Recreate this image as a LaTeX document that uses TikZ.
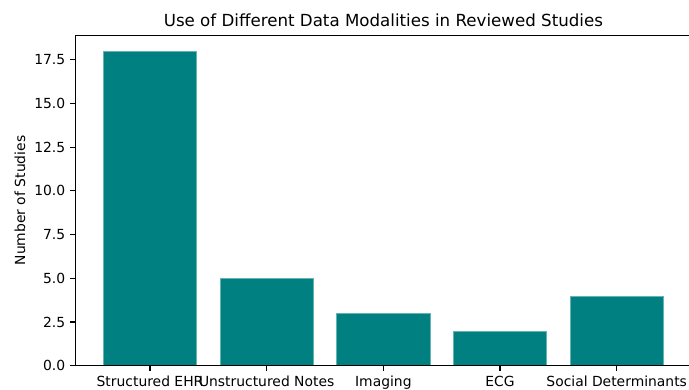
\documentclass[tikz,border=0pt]{standalone}
\usepackage{fontspec}
\setmainfont{DejaVu Sans}
\definecolor{barteal}{RGB}{0,128,128}
\begin{document}
\begin{tikzpicture}[x=0.72pt,y=0.72pt,
  spine/.style={line width=0.8pt,black},
  tickline/.style={line width=0.8pt,black},
  bar/.style={fill=barteal,draw=barteal!60!white,line width=0.3pt},
  xlab/.style={anchor=north,inner sep=0pt,font=\fontsize{10}{12}\selectfont},
  ylab/.style={anchor=east,inner sep=0pt,font=\fontsize{10}{12}\selectfont},
  ttl/.style={anchor=base,inner sep=0pt,font=\fontsize{12}{14}\selectfont}]
\useasboundingbox (0,0) rectangle (689,390);
% bars: X(i)=150+116.67 i, half width 46.67, Y(v)=24.3+17.486 v
\foreach \i/\v in {0/18,1/5,2/3,3/2,4/4}{
  \pgfmathsetmacro{\cx}{150+116.67*\i}
  \pgfmathsetmacro{\top}{24.3+17.486*\v}
  \path[bar] (\cx-46.67,24.3) rectangle (\cx+46.67,\top);
}
% spines
\coordinate (bl) at (75.3,24.3);
\coordinate (tl) at (75.3,354.8);
\coordinate (br) at (689,24.3);
\coordinate (tr) at (689,354.8);
\draw[spine] (tl) -- (bl) -- (br);
\draw[spine] (tl) -- (tr);
% y ticks
\foreach \v/\t in {0/0.0,2.5/2.5,5/5.0,7.5/7.5,10/10.0,12.5/12.5,15/15.0,17.5/17.5}{
  \pgfmathsetmacro{\yy}{24.3+17.486*\v}
  \draw[tickline] (75.3,\yy) -- (70.4,\yy);
  \node[ylab] (yt\t) at (65.5,\yy) {\t};
}
% x ticks
\foreach \i/\t in {0/Structured EHR,1/Unstructured Notes,2/Imaging,3/ECG,4/Social Determinants}{
  \pgfmathsetmacro{\cx}{150+116.67*\i}
  \draw[tickline] (\cx,24.3) -- (\cx,19.4);
  \node[xlab] (xt\i) at (\cx,14.5) {\t};
}
\node[rotate=90,inner sep=0pt,font=\fontsize{10}{12}\selectfont] (ylabel) at (20,189.5) {Number of Studies};
\node[ttl] (title) at (383.4,363.3) {Use of Different Data Modalities in Reviewed Studies};
\end{tikzpicture}
\end{document}
